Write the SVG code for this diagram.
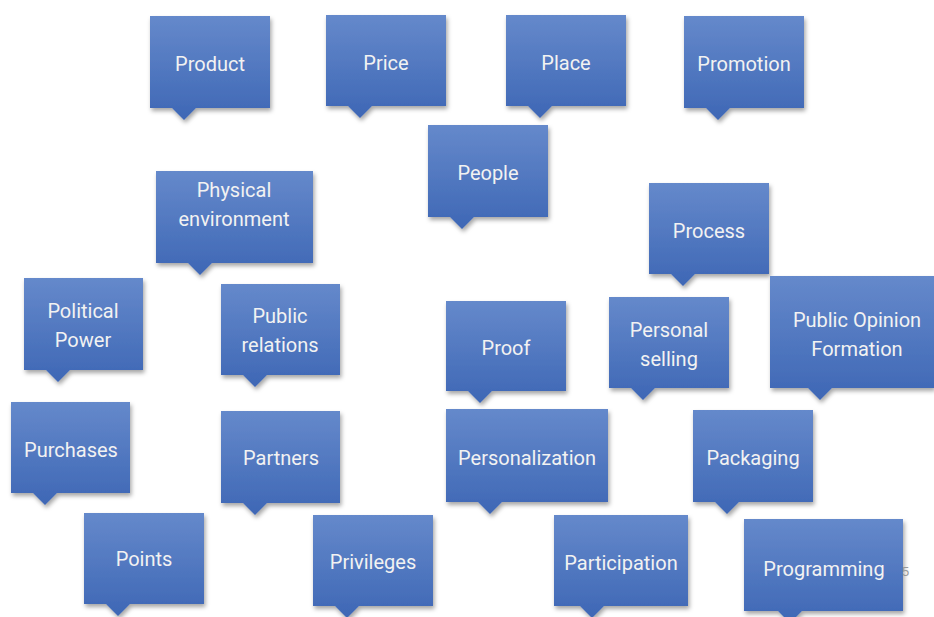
<svg xmlns="http://www.w3.org/2000/svg" width="934" height="617" viewBox="0 0 934 617">
<defs>
<linearGradient id="g" x1="0" y1="0" x2="0" y2="1">
<stop offset="0" stop-color="#6589cb"/>
<stop offset="1" stop-color="#3e67b5"/>
</linearGradient>
<filter id="sh" x="-10%" y="-10%" width="125%" height="130%">
<feDropShadow dx="1.5" dy="3" stdDeviation="2" flood-color="#000" flood-opacity="0.35"/>
</filter>
</defs>
<style>
.b{fill:url(#g);filter:url(#sh)}
.t{font-family:Roboto,"Liberation Sans",sans-serif;font-size:20px;fill:#f2f2f2;text-anchor:middle}
.n{font-family:"Liberation Sans",sans-serif;font-size:13px;fill:#999}
</style>
<rect width="934" height="617" fill="#fff"/>
<g id="product"><path class="b" d="M150,16H270V108H196L184,120L172,108H150Z"/><text class="t" x="210" y="71">Product</text></g>
<g id="price"><path class="b" d="M326,15H446V106H372L360,118L348,106H326Z"/><text class="t" x="386" y="70">Price</text></g>
<g id="place"><path class="b" d="M506,15H626V106H552L540,118L528,106H506Z"/><text class="t" x="566" y="70">Place</text></g>
<g id="promotion"><path class="b" d="M684,16H804V108H730L718,120L706,108H684Z"/><text class="t" x="744" y="71">Promotion</text></g>
<g id="people"><path class="b" d="M428,125H548V217H474L462,229L450,217H428Z"/><text class="t" x="488" y="180">People</text></g>
<g id="physical"><path class="b" d="M156,171H313V263H212L200,275L188,263H156Z"/><text class="t" x="234" y="197">Physical</text><text class="t" x="234" y="226">environment</text></g>
<g id="process"><path class="b" d="M649,183H769V274H695L683,286L671,274H649Z"/><text class="t" x="709" y="238">Process</text></g>
<g id="political"><path class="b" d="M24,278H143V370H70L58,382L46,370H24Z"/><text class="t" x="83" y="318">Political</text><text class="t" x="83" y="347">Power</text></g>
<g id="public-relations"><path class="b" d="M221,284H340V375H267L255,387L243,375H221Z"/><text class="t" x="280" y="323">Public</text><text class="t" x="280" y="352">relations</text></g>
<g id="proof"><path class="b" d="M446,301H566V391H492L480,403L468,391H446Z"/><text class="t" x="506" y="355">Proof</text></g>
<g id="personal-selling"><path class="b" d="M609,297H729V388H655L643,400L631,388H609Z"/><text class="t" x="669" y="337">Personal</text><text class="t" x="669" y="366">selling</text></g>
<g id="public-opinion"><path class="b" d="M770,276H934V388H832L820,400L808,388H770Z"/><text class="t" x="857" y="327">Public Opinion</text><text class="t" x="857" y="356">Formation</text></g>
<g id="purchases"><path class="b" d="M11,402H130V493H57L45,505L33,493H11Z"/><text class="t" x="71" y="457">Purchases</text></g>
<g id="partners"><path class="b" d="M221,411H340V503H267L255,515L243,503H221Z"/><text class="t" x="281" y="465">Partners</text></g>
<g id="personalization"><path class="b" d="M446,409H608V502H502L490,514L478,502H446Z"/><text class="t" x="527" y="465">Personalization</text></g>
<g id="packaging"><path class="b" d="M693,410H813V502H739L727,514L715,502H693Z"/><text class="t" x="753" y="465">Packaging</text></g>
<g id="points"><path class="b" d="M84,513H204V604H130L118,616L106,604H84Z"/><text class="t" x="144" y="566">Points</text></g>
<g id="privileges"><path class="b" d="M313,515H433V606H359L347,618L335,606H313Z"/><text class="t" x="373" y="569">Privileges</text></g>
<g id="participation"><path class="b" d="M554,515H688V606H604L592,618L580,606H554Z"/><text class="t" x="621" y="570">Participation</text></g>
<g id="programming"><path class="b" d="M744,519H903V611H802L790,623L778,611H744Z"/><text class="t" x="824" y="576">Programming</text></g>
<text class="n" x="902" y="576">5</text>
</svg>
